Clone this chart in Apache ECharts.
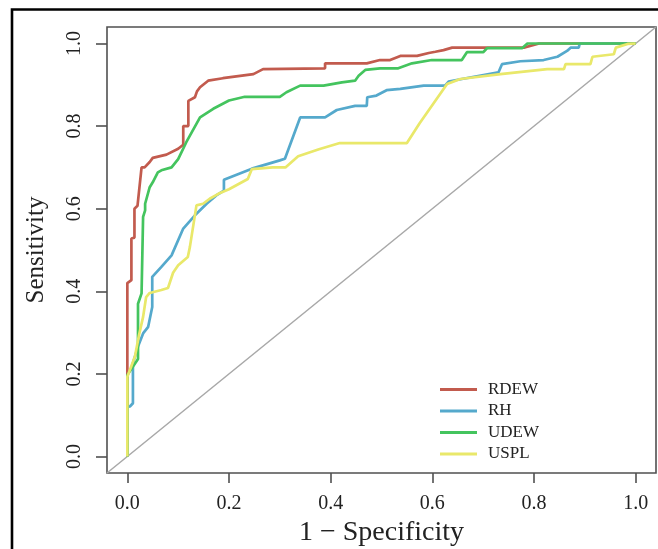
<!DOCTYPE html>
<html><head><meta charset="utf-8">
<script src="https://cdn.jsdelivr.net/npm/echarts@6/dist/echarts.min.js"></script>
<style>html,body{margin:0;padding:0;background:#fff}#c{width:658px;height:549px}</style>
</head><body><div id="c"></div>
<script>
const seriesNames = ['RDEW', 'RH', 'UDEW', 'USPL'];
const tickValues = [0, 0.2, 0.4, 0.6, 0.8, 1.0];
const xTitle = '1 \u2212 Specificity';
const yTitle = 'Sensitivity';
const diagonal = [[-0.04, -0.04], [1.04, 1.04]];

const rdew = [[0,0],[0,0.215],[0,0.42],[0.008,0.427],[0.008,0.528],[0.014,0.53],[0.014,0.60],[0.02,0.607],[0.028,0.70],[0.034,0.70],[0.044,0.713],[0.05,0.723],[0.077,0.731],[0.1,0.745],[0.11,0.755],[0.11,0.80],[0.12,0.80],[0.12,0.861],[0.133,0.87],[0.137,0.884],[0.143,0.894],[0.159,0.91],[0.188,0.916],[0.248,0.926],[0.267,0.938],[0.389,0.94],[0.389,0.952],[0.471,0.952],[0.497,0.96],[0.517,0.96],[0.537,0.97],[0.57,0.97],[0.593,0.977],[0.606,0.98],[0.622,0.984],[0.639,0.99],[0.78,0.99],[0.81,1.0],[1,1]];

const rh = [[0,0],[0,0.12],[0.005,0.121],[0.011,0.129],[0.011,0.226],[0.021,0.266],[0.031,0.298],[0.041,0.314],[0.049,0.362],[0.049,0.435],[0.067,0.459],[0.087,0.487],[0.11,0.552],[0.133,0.584],[0.156,0.612],[0.175,0.632],[0.19,0.644],[0.19,0.67],[0.245,0.697],[0.30,0.717],[0.31,0.721],[0.34,0.821],[0.389,0.821],[0.412,0.839],[0.448,0.849],[0.471,0.849],[0.472,0.87],[0.49,0.874],[0.51,0.887],[0.537,0.89],[0.583,0.898],[0.625,0.898],[0.632,0.908],[0.658,0.914],[0.73,0.93],[0.737,0.95],[0.773,0.957],[0.819,0.96],[0.846,0.968],[0.865,0.982],[0.872,0.99],[0.888,0.99],[0.89,1.0],[1,1]];

const udew = [[0,0],[0,0.197],[0.021,0.236],[0.021,0.37],[0.028,0.395],[0.031,0.395],[0.031,0.58],[0.035,0.596],[0.035,0.612],[0.044,0.652],[0.05,0.664],[0.06,0.688],[0.067,0.693],[0.087,0.70],[0.1,0.72],[0.116,0.761],[0.143,0.821],[0.169,0.842],[0.2,0.862],[0.231,0.871],[0.3,0.871],[0.313,0.882],[0.34,0.898],[0.386,0.898],[0.422,0.906],[0.448,0.91],[0.455,0.922],[0.468,0.936],[0.497,0.94],[0.533,0.94],[0.56,0.952],[0.599,0.96],[0.658,0.96],[0.668,0.979],[0.70,0.979],[0.708,0.989],[0.777,0.989],[0.787,1.0],[1,1]];

const uspl = [[0,0],[0,0.193],[0.015,0.242],[0.023,0.294],[0.031,0.338],[0.037,0.386],[0.044,0.396],[0.067,0.403],[0.08,0.408],[0.09,0.445],[0.1,0.463],[0.119,0.483],[0.123,0.507],[0.136,0.608],[0.149,0.612],[0.162,0.624],[0.179,0.636],[0.2,0.647],[0.237,0.672],[0.245,0.696],[0.286,0.70],[0.311,0.70],[0.336,0.727],[0.377,0.744],[0.418,0.759],[0.55,0.759],[0.575,0.807],[0.629,0.902],[0.655,0.914],[0.734,0.926],[0.826,0.938],[0.859,0.938],[0.862,0.95],[0.911,0.95],[0.915,0.968],[0.957,0.974],[0.961,0.99],[0.984,0.999],[1,1]];

const seriesData = [rdew, rh, udew, uspl];
const colors = ['#c25b4e', '#55a9cc', '#44c45e', '#e9e86a'];
const font = '"Liberation Serif", "Times New Roman", serif';
const axisGrey = '#505050';

const chart = echarts.init(document.getElementById('c'), null, {renderer: 'canvas'});
const series = [{
  name: 'diag', type: 'line', data: diagonal, symbol: 'none', silent: true,
  lineStyle: {color: '#a8a8a8', width: 1.5}, z: 1
}];
seriesNames.forEach((n, i) => series.push({
  name: n, type: 'line', data: seriesData[i], symbol: 'none', showSymbol: false,
  lineStyle: {color: colors[i], width: 2.7}, itemStyle: {color: colors[i]}, z: 2 + i
}));

chart.setOption({
  animation: false,
  backgroundColor: '#fff',
  grid: {left: 107, right: 2, top: 27, bottom: 76, containLabel: false, outerBoundsMode: 'none',
    show: true, borderColor: axisGrey, borderWidth: 1.6, backgroundColor: 'transparent'},
  xAxis: {
    type: 'value', min: -0.04, max: 1.04,
    axisLine: {show: false, onZero: false},
    splitLine: {show: false},
    axisTick: {show: true, inside: false, length: 10, customValues: tickValues, lineStyle: {color: axisGrey, width: 1.6}},
    axisLabel: {customValues: tickValues, margin: 21, fontFamily: font, fontSize: 20, color: '#222',
      formatter: v => v.toFixed(1)},
    name: xTitle, nameLocation: 'middle', nameGap: 38,
    nameTextStyle: {fontFamily: font, fontSize: 28, color: '#222'}
  },
  yAxis: {
    type: 'value', min: -0.04, max: 1.04,
    axisLine: {show: false, onZero: false},
    splitLine: {show: false},
    axisTick: {show: true, inside: false, length: 11, customValues: tickValues, lineStyle: {color: axisGrey, width: 1.6}},
    axisLabel: {customValues: tickValues, rotate: 90, margin: 22, fontFamily: font, fontSize: 20, color: '#222',
      formatter: v => v.toFixed(1)},
    name: yTitle, nameLocation: 'middle', nameGap: 58,
    nameTextStyle: {fontFamily: font, fontSize: 25, color: '#222'}
  },
  legend: {
    data: seriesNames, orient: 'vertical', left: 435, top: 376, icon: 'rect',
    itemWidth: 37, itemHeight: 3, itemGap: 4.5,
    textStyle: {fontFamily: font, fontSize: 17, color: '#222', padding: [0, 0, 0, 6], lineHeight: 17}
  },
  graphic: [{
    type: 'rect', shape: {x: 12, y: 9.5, width: 700, height: 600},
    style: {fill: 'none', stroke: '#000', lineWidth: 2.6}, silent: true, z: 100
  }],
  series: series
});
</script></body></html>
